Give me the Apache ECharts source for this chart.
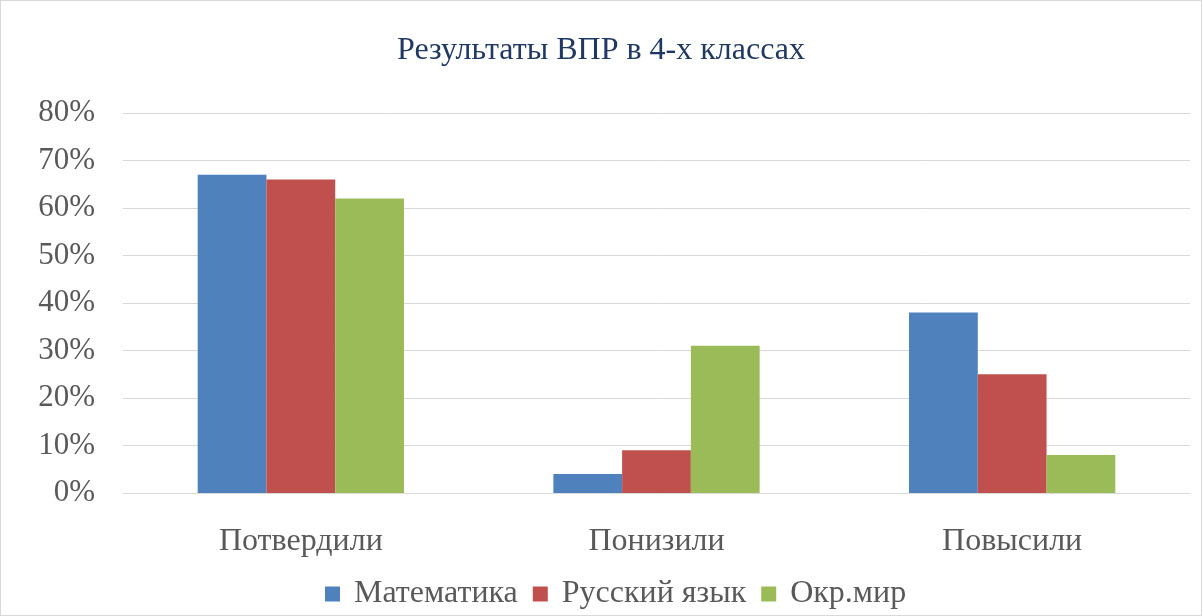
<!DOCTYPE html>
<html><head><meta charset="utf-8">
<script src="https://cdn.jsdelivr.net/npm/echarts@6/dist/echarts.min.js"></script>
<style>html,body{margin:0;padding:0;background:#fff}#c{width:1200px;height:614px;border:1px solid #d9d9d9}</style>
</head><body><div id="c"></div>
<script>
const categories = ['Потвердили', 'Понизили', 'Повысили'];
const seriesNames = ['Математика', 'Русский язык', 'Окр.мир'];
const mathValues = [67, 4, 38];
const russianValues = [66, 9, 25];
const worldValues = [62, 31, 8];
const colors = ['#4F81BD', '#C0504D', '#9BBB59'];
const font = '"Liberation Serif", "Times New Roman", serif';
const chart = echarts.init(document.getElementById('c'));
const mk = (name, data, color) => ({name, type: 'bar', data, itemStyle: {color}, barGap: '0%', barCategoryGap: '42%'});
chart.setOption({
  animation: false,
  title: {text: 'Результаты ВПР в 4-х классах', left: 'center', top: 29,
    textStyle: {fontFamily: font, fontSize: 32, fontWeight: 'normal', color: '#1F3864'}},
  legend: {bottom: 5, padding: 0, left: 324, itemWidth: 15, itemHeight: 15, itemGap: 15, icon: 'rect',
    textStyle: {fontFamily: font, fontSize: 32, color: '#595959', padding: [0, 0, 0, 9]}},
  grid: {left: 122, right: 11, top: 112, bottom: 122},
  xAxis: {type: 'category', data: categories,
    axisLine: {lineStyle: {color: '#d9d9d9'}}, axisTick: {show: false},
    axisLabel: {fontFamily: font, fontSize: 32, color: '#595959', margin: 33}},
  yAxis: {type: 'value', min: 0, max: 80, interval: 10,
    axisLabel: {formatter: '{value}%', fontFamily: font, fontSize: 31, color: '#595959', margin: 28},
    splitLine: {lineStyle: {color: '#d9d9d9'}}, axisLine: {show: false}, axisTick: {show: false}},
  series: [mk(seriesNames[0], mathValues, colors[0]), mk(seriesNames[1], russianValues, colors[1]), mk(seriesNames[2], worldValues, colors[2])]
});
</script></body></html>
